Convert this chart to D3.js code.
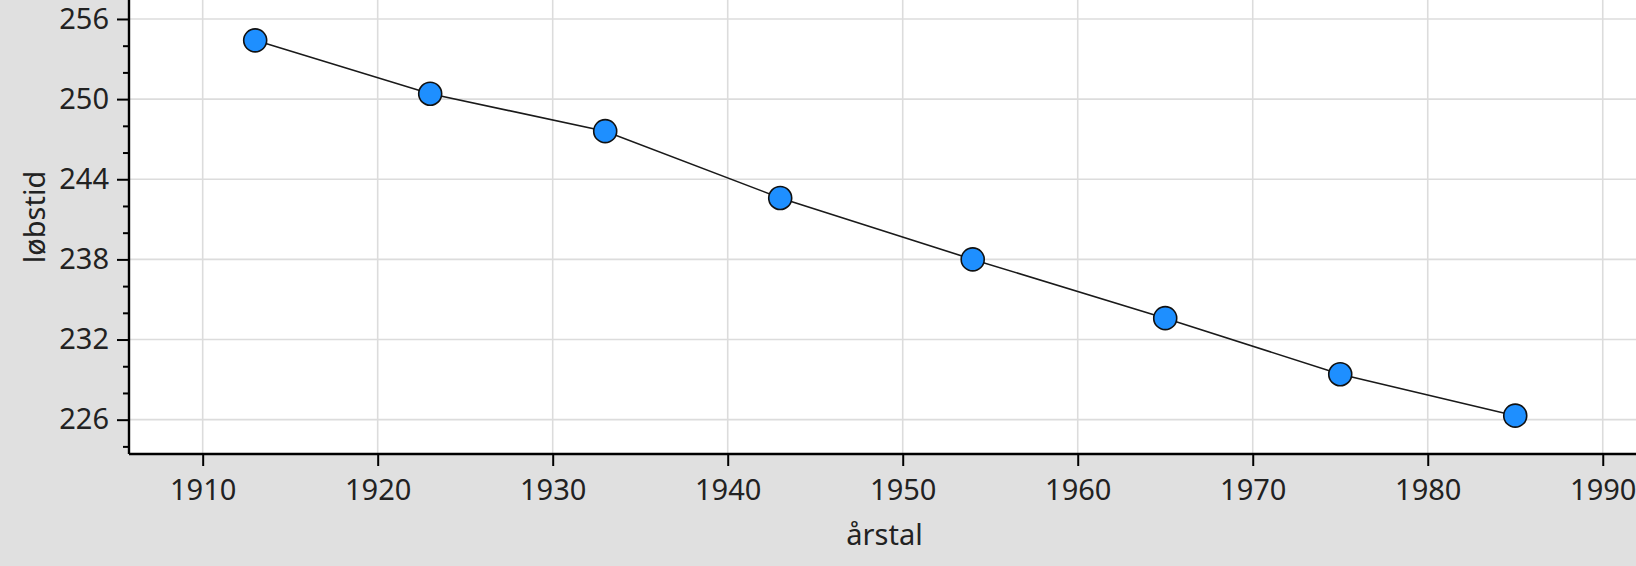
<!DOCTYPE html>
<html>
<head>
<meta charset="utf-8">
<script src="https://cdn.jsdelivr.net/npm/d3@7"></script>
<style>
  html, body { margin: 0; padding: 0; background: #e0e0e0; }
  svg { display: block; }
  text { font-family: "Noto Sans", "Open Sans", sans-serif; fill: #222; }
</style>
</head>
<body>
<svg id="chart" width="1636" height="566"></svg>
<script>
// Data: mile world record progression (running time in seconds)
const years = [1913, 1923, 1933, 1943, 1954, 1965, 1975, 1985];
const times = [254.4, 250.4, 247.6, 242.6, 238.0, 233.6, 229.4, 226.3];
const xTicks = [1910, 1920, 1930, 1940, 1950, 1960, 1970, 1980, 1990];
const yTicks = [226, 232, 238, 244, 250, 256];
const yMinorTicks = [224, 228, 230, 234, 236, 240, 242, 246, 248, 252, 254];
const xLabel = "årstal";
const yLabel = "løbstid";

(function () {
const W = 1636, H = 566;
const pLeft = 129, pRight = 1636, pTop = 0, pBottom = 454;

const svg = d3.select("#chart");
svg.append("rect").attr("width", W).attr("height", H).attr("fill", "#e0e0e0");

const x = d3.scaleLinear().domain([1905.79, 1991.9]).range([pLeft, pRight]);
const y = d3.scaleLinear().domain([223.43, 257.42]).range([pBottom, pTop]);

// plot background
svg.append("rect")
  .attr("x", pLeft).attr("y", pTop)
  .attr("width", pRight - pLeft).attr("height", pBottom - pTop)
  .attr("fill", "#ffffff");

// grid
const grid = svg.append("g");
grid.selectAll("line.vx").data(xTicks).join("line")
  .attr("x1", d => x(d)).attr("x2", d => x(d))
  .attr("y1", pTop).attr("y2", pBottom)
  .attr("stroke", "#dcdcdc").attr("stroke-width", 1.6);
grid.selectAll("line.hy").data(yTicks).join("line")
  .attr("x1", pLeft).attr("x2", pRight)
  .attr("y1", d => y(d)).attr("y2", d => y(d))
  .attr("stroke", "#dcdcdc").attr("stroke-width", 1.6);

// axes
const fontSize = 29;
const xAxis = svg.append("g")
  .attr("transform", `translate(0,${pBottom})`)
  .call(d3.axisBottom(x).tickValues(xTicks).tickFormat(d3.format("d")).tickSize(12).tickPadding(13).tickSizeOuter(0));
const yAxis = svg.append("g")
  .attr("transform", `translate(${pLeft},0)`)
  .call(d3.axisLeft(y).tickValues(yTicks).tickFormat(d3.format("d")).tickSize(12).tickPadding(8).tickSizeOuter(0));
const yMinor = svg.append("g")
  .attr("transform", `translate(${pLeft},0)`)
  .call(d3.axisLeft(y).tickValues(yMinorTicks).tickFormat("").tickSize(6).tickSizeOuter(0));
yMinor.select(".domain").remove();

[xAxis, yAxis, yMinor].forEach(g => {
  g.selectAll(".tick line").attr("stroke", "#000").attr("stroke-width", 2);
  g.selectAll(".domain").attr("stroke", "#000").attr("stroke-width", 2.4);
  g.selectAll("text")
    .attr("font-family", "'Noto Sans', 'Open Sans', sans-serif")
    .attr("font-size", fontSize).attr("fill", "#222");
});
xAxis.select(".domain").attr("d", `M${pLeft},0H${pRight}`);
yAxis.select(".domain").attr("d", `M0,${pTop}V${pBottom}`);

// line
const line = d3.line().x((d, i) => x(years[i])).y(d => y(d));
svg.append("path")
  .datum(times)
  .attr("d", line)
  .attr("fill", "none")
  .attr("stroke", "#1a1a1a")
  .attr("stroke-width", 1.6);

// points
svg.selectAll("circle.pt").data(times).join("circle")
  .attr("class", "pt")
  .attr("cx", (d, i) => x(years[i]))
  .attr("cy", d => y(d))
  .attr("r", 11.5)
  .attr("fill", "#1e8fff")
  .attr("stroke", "#111")
  .attr("stroke-width", 1.6);

// axis labels
svg.append("text")
  .attr("x", (pLeft + pRight) / 2 + 2).attr("y", 545)
  .attr("text-anchor", "middle")
  .attr("font-size", fontSize)
  .text(xLabel);
svg.append("text")
  .attr("transform", `translate(45,217) rotate(-90)`)
  .attr("text-anchor", "middle")
  .attr("font-size", fontSize)
  .text(yLabel);
})();
</script>
</body>
</html>
